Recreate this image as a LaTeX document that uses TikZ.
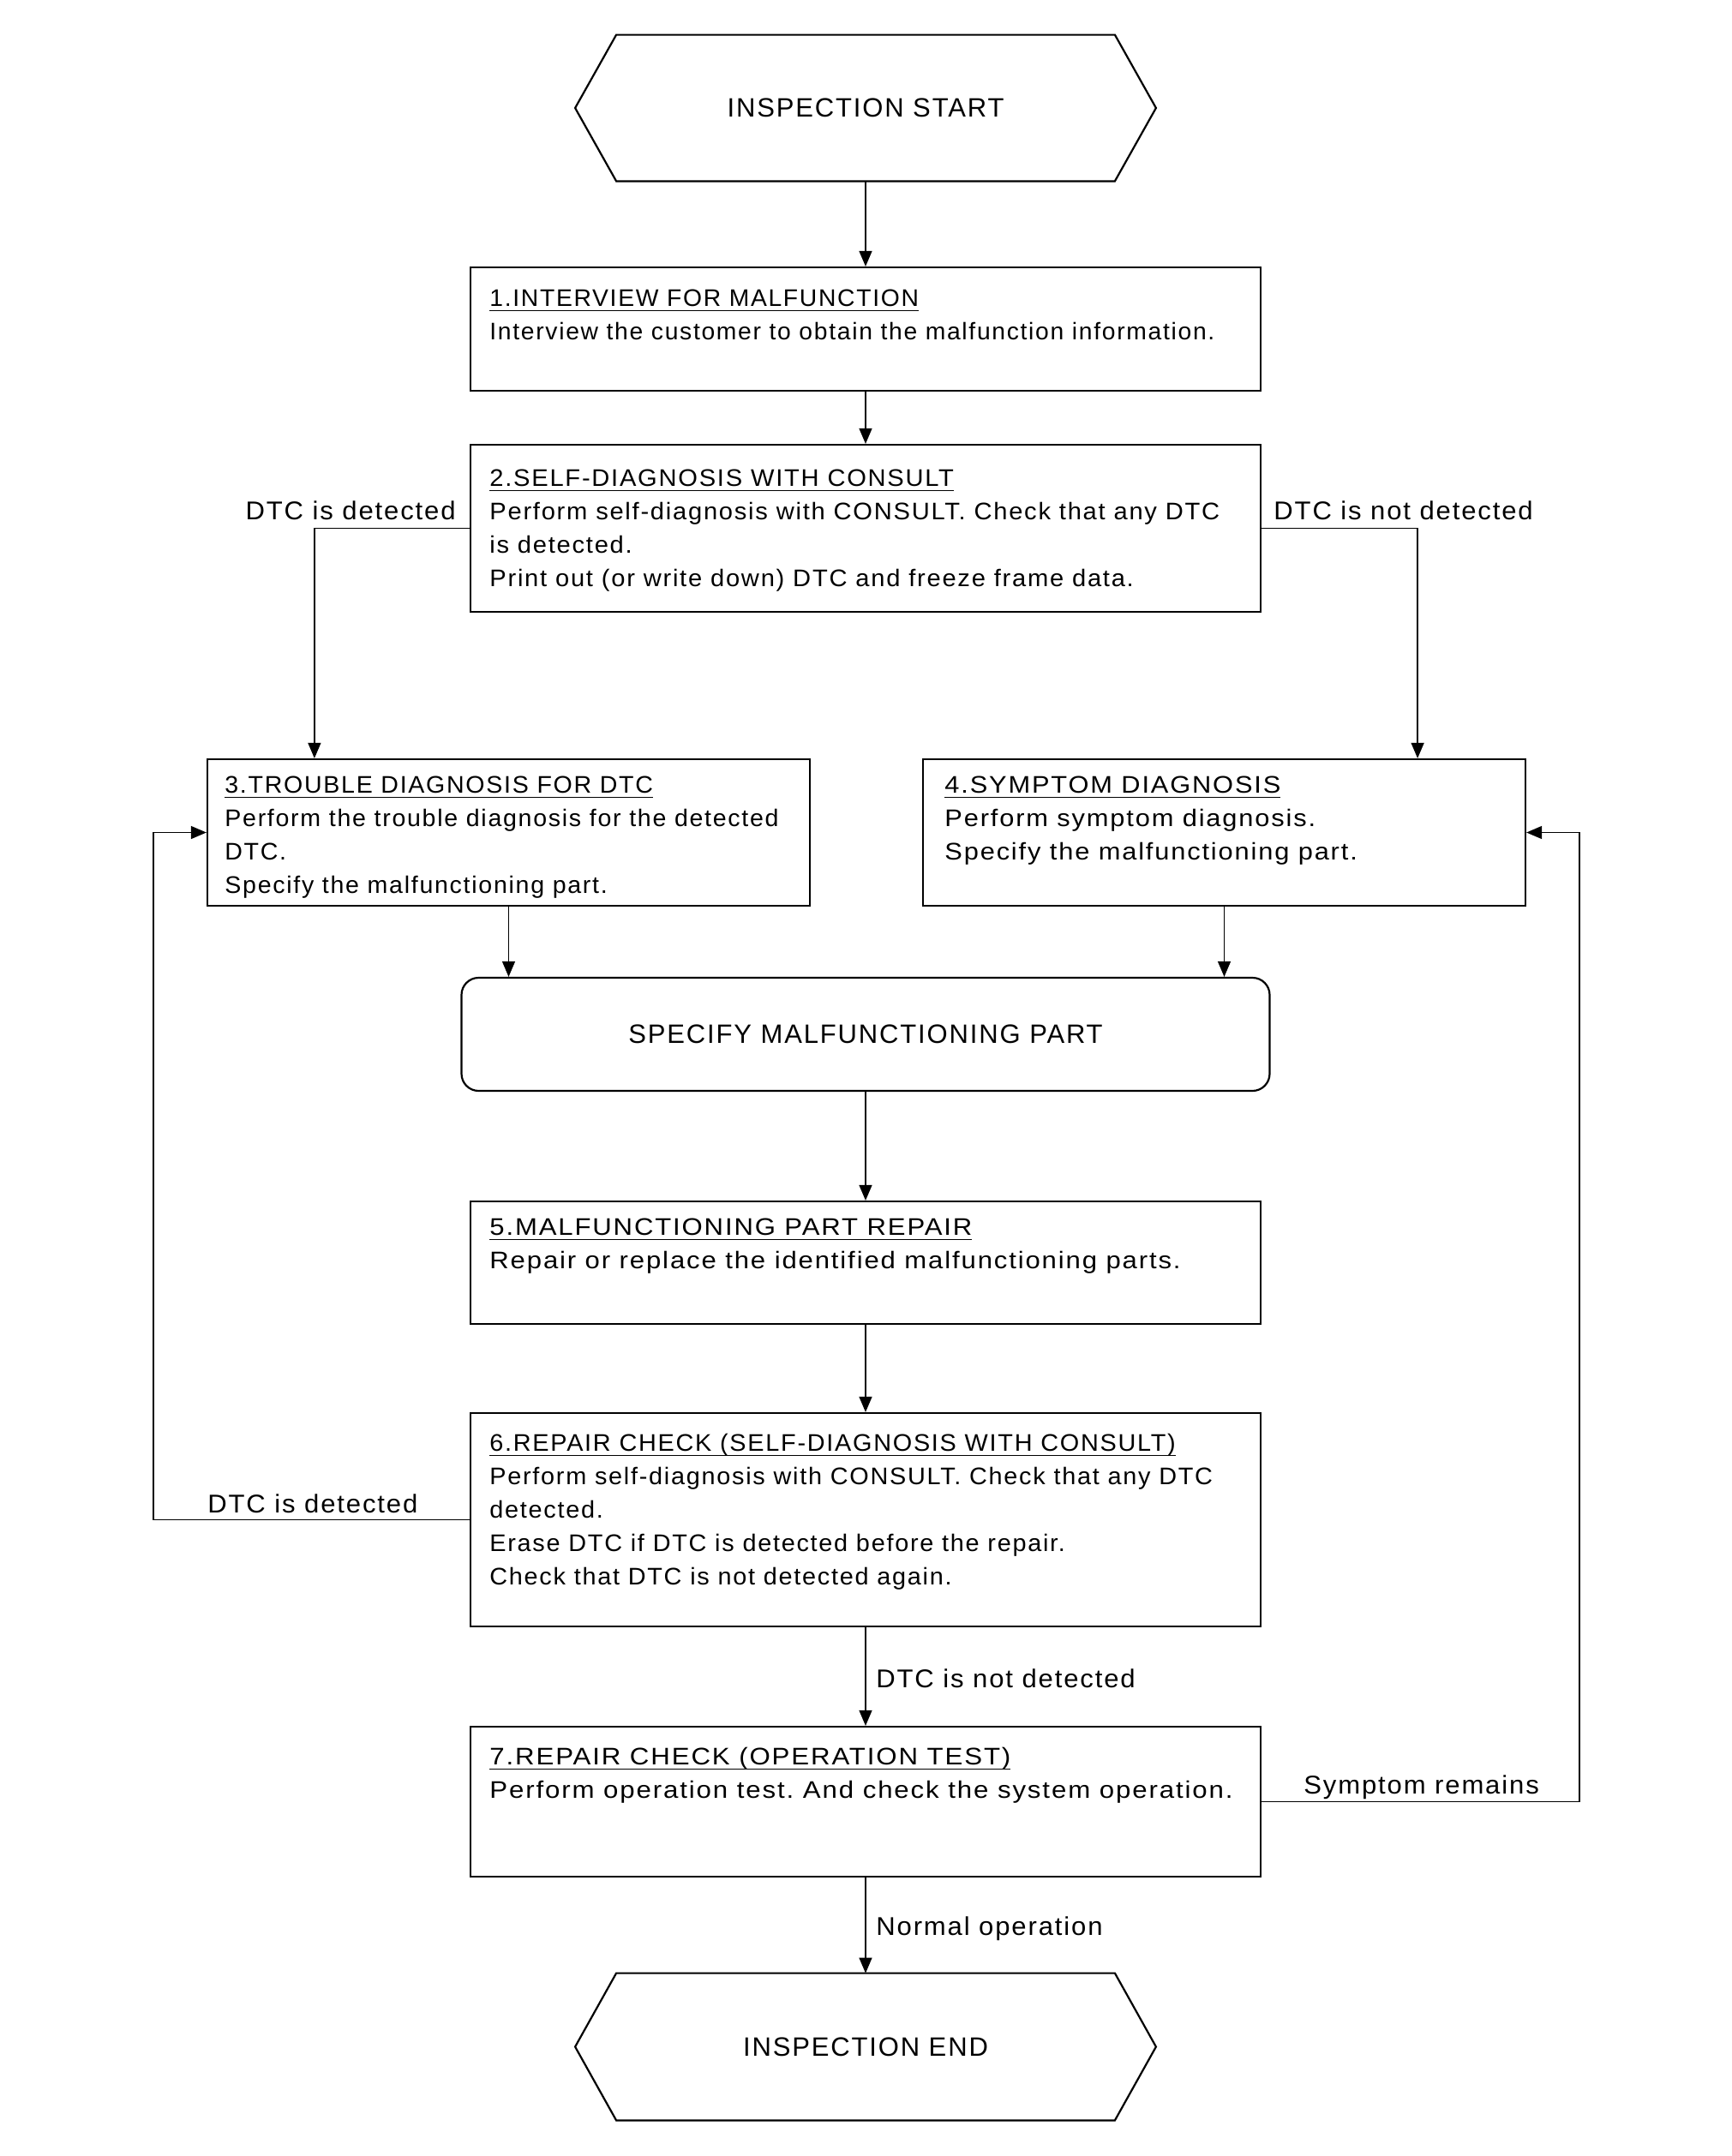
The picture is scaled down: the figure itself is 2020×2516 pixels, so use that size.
\documentclass[tikz,border=0pt]{standalone}
\usepackage{fontspec}
\usepackage{graphicx}
\setmainfont{Liberation Sans}[LetterSpace=6]
\usetikzlibrary{arrows.meta}
\frenchspacing
\newcommand\ttl[1]{\setbox0=\hbox{#1}\rlap{\rule[-3.2pt]{\wd0}{0.8pt}}\box0}
\newcommand\txtlines[2]{\scalebox{#1}[1]{\vtop{\baselineskip=19.6pt\lineskiplimit=-20pt\halign{##\hfil\cr#2\crcr}}}}
\newcommand\wide[1]{\scalebox{1.035}[1]{#1}}
\tikzset{
  box/.style={draw, line width=1.1pt, minimum width=461pt, inner sep=0pt},
  sidebox/.style={draw, line width=1.1pt, minimum width=351.5pt, minimum height=85.5pt, inner sep=0pt},
  hexnode/.style={minimum width=338.5pt, minimum height=85pt, inner sep=0pt, font=\fontsize{15.5pt}{18pt}\selectfont},
  hexline/.style={line width=1.1pt},
  body/.style={anchor=base west, inner sep=0pt, font=\fontsize{14pt}{19.6pt}\selectfont},
  lbl/.style={inner sep=0pt, font=\fontsize{15pt}{18pt}\selectfont},
  conn/.style={line width=0.65pt, -{Triangle[length=9pt,width=7.5pt]}},
  plain/.style={line width=0.65pt}
}
\begin{document}
\begin{tikzpicture}[x=0.5pt,y=-0.5pt]
\fill[white] (0,0) rectangle (2020,2516);
\useasboundingbox (0,0) rectangle (2020,2516);

% start / end hexagons
\node[hexnode] (hs) at (1010,126) {INSPECTION START};
\draw[hexline] (hs.west) -- ([xshift=24pt]hs.north west) -- ([xshift=-24pt]hs.north east) -- (hs.east) -- ([xshift=-24pt]hs.south east) -- ([xshift=24pt]hs.south west) -- cycle;
\node[hexnode, minimum height=85.5pt] (he) at (1010,2388.5) {INSPECTION END};
\draw[hexline] (he.west) -- ([xshift=24pt]he.north west) -- ([xshift=-24pt]he.north east) -- (he.east) -- ([xshift=-24pt]he.south east) -- ([xshift=24pt]he.south west) -- cycle;

% boxes
\node[box, minimum height=72pt] (b1) at (1010,384) {};
\node[box, minimum height=97.5pt] (b2) at (1010,616.5) {};
\node[sidebox] (b3) at (593.5,971.5) {};
\node[sidebox] (b4) at (1428.5,971.5) {};
\node[draw, line width=1.1pt, rounded corners=10pt, minimum width=471.5pt, minimum height=66pt, inner sep=0pt, font=\fontsize{15.5pt}{18pt}\selectfont] (sp) at (1010,1207) {SPECIFY MALFUNCTIONING PART};
\node[box, minimum height=71.5pt] (b5) at (1010,1473.5) {};
\node[box, minimum height=124.5pt] (b6) at (1010,1773.5) {};
\node[box, minimum height=87.5pt] (b7) at (1010,2102.5) {};

% box texts
\node[body] (t1) at (571,357) {\txtlines{1.01}{\ttl{1.INTERVIEW FOR MALFUNCTION}\cr Interview the customer to obtain the malfunction information.}};
\node[body] (t2) at (571,567) {\txtlines{1.04}{\ttl{2.SELF-DIAGNOSIS WITH CONSULT}\cr Perform self-diagnosis with CONSULT. Check that any DTC\cr is detected.\cr Print out (or write down) DTC and freeze frame data.}};
\node[body] (t3) at (262,925) {\txtlines{1.02}{\ttl{3.TROUBLE DIAGNOSIS FOR DTC}\cr Perform the trouble diagnosis for the detected\cr DTC.\cr Specify the malfunctioning part.}};
\node[body] (t4) at (1102,925) {\txtlines{1.10}{\ttl{4.SYMPTOM DIAGNOSIS}\cr Perform symptom diagnosis.\cr Specify the malfunctioning part.}};
\node[body] (t5) at (571,1441) {\txtlines{1.11}{\ttl{5.MALFUNCTIONING PART REPAIR}\cr Repair or replace the identified malfunctioning parts.}};
\node[body] (t6) at (571,1693) {\txtlines{1.03}{\ttl{6.REPAIR CHECK (SELF-DIAGNOSIS WITH CONSULT)}\cr Perform self-diagnosis with CONSULT. Check that any DTC\cr detected.\cr Erase DTC if DTC is detected before the repair.\cr Check that DTC is not detected again.}};
\node[body] (t7) at (571,2059) {\txtlines{1.115}{\ttl{7.REPAIR CHECK (OPERATION TEST)}\cr Perform operation test. And check the system operation.}};

% connector labels
\node[lbl, anchor=base east] (l1) at (532,606) {\wide{DTC is detected}};
\node[lbl, anchor=base west] (l2) at (1486,606) {\wide{DTC is not detected}};
\node[lbl, anchor=base west] (l3) at (242,1765) {\wide{DTC is detected}};
\node[lbl, anchor=base west] (l4) at (1022,1969) {\wide{DTC is not detected}};
\node[lbl, anchor=base west] (l5) at (1521,2093) {\wide{Symptom remains}};
\node[lbl, anchor=base west] (l6) at (1022,2258) {\wide{Normal operation}};

% connectors
\draw[conn] (hs.south) -- (b1.north);
\draw[conn] (b1.south) -- (b2.north);
\draw[conn] (b2.west) -| ([xshift=63pt]b3.north west);
\draw[conn] (b2.east) -| ([xshift=-63.5pt]b4.north east);
\draw[conn] (b3.south) -- (b3.south |- sp.north);
\draw[conn] (b4.south) -- (b4.south |- sp.north);
\draw[conn] (sp.south) -- (b5.north);
\draw[conn] (b5.south) -- (b6.north);
\draw[conn] (b6.south) -- (b7.north);
\draw[conn] (b7.south) -- (he.north);
\coordinate (lx) at (179,1773.5);
\draw[conn] (b6.west) -- (lx) |- (b3.west);
\coordinate (rx) at (1843,2102.5);
\draw[conn] (b7.east) -- (rx) |- (b4.east);
\end{tikzpicture}
\end{document}
